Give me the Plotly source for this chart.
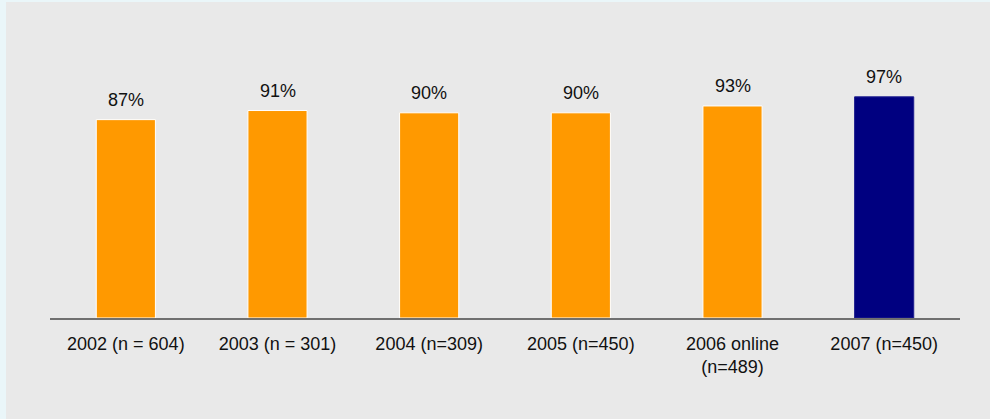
import plotly.graph_objects as go

categories = ["2002 (n = 604)", "2003 (n = 301)", "2004 (n=309)", "2005 (n=450)",
              "2006 online<br>(n=489)", "2007 (n=450)"]
values = [87, 91, 90, 90, 93, 97]
labels = ["87%", "91%", "90%", "90%", "93%", "97%"]
bar_colors = ["#FF9900"] * 5 + ["#000080"]
edge_colors = ["#FFFFFF"] * 5 + ["#1F1F8F"]

W, H = 990, 419
ML, MR, MT, MB = 50, 30, 20, 101
pw = W - ML - MR
ph = H - MT - MB

def px_x(p):
    return (p - ML) / pw

def px_y(p):
    return (H - MB - p) / ph

fig = go.Figure()
fig.add_trace(go.Bar(
    x=categories, y=values,
    marker=dict(color=bar_colors, line=dict(color=edge_colors, width=1)),
    hoverinfo="skip",
))

for c, v, t in zip(categories, values, labels):
    fig.add_annotation(x=c, y=v, text=t, showarrow=False, yanchor="bottom",
                       yshift=8, font=dict(size=18, color="#111111",
                                           family="Liberation Sans, Arial, sans-serif"))

fig.add_shape(type="rect", xref="paper", yref="paper",
              x0=px_x(6), x1=px_x(W + 5), y0=px_y(H + 5), y1=px_y(2),
              fillcolor="#E9E9E9", line=dict(width=0), layer="below")

fig.update_layout(
    width=W, height=H,
    margin=dict(l=ML, r=MR, t=MT, b=MB),
    paper_bgcolor="#EAF6F9",
    plot_bgcolor="rgba(0,0,0,0)",
    bargap=0.61,
    showlegend=False,
    font=dict(family="Liberation Sans, Arial, sans-serif", size=18, color="#111111"),
    xaxis=dict(showline=True, linecolor="#707070", linewidth=2, ticks="",
               showgrid=False, zeroline=False, ticklabelstandoff=8,
               tickfont=dict(size=18, color="#111111")),
    yaxis=dict(visible=False, range=[0, ph / 2.28], showgrid=False, zeroline=False),
)

fig.write_html("out.html")
